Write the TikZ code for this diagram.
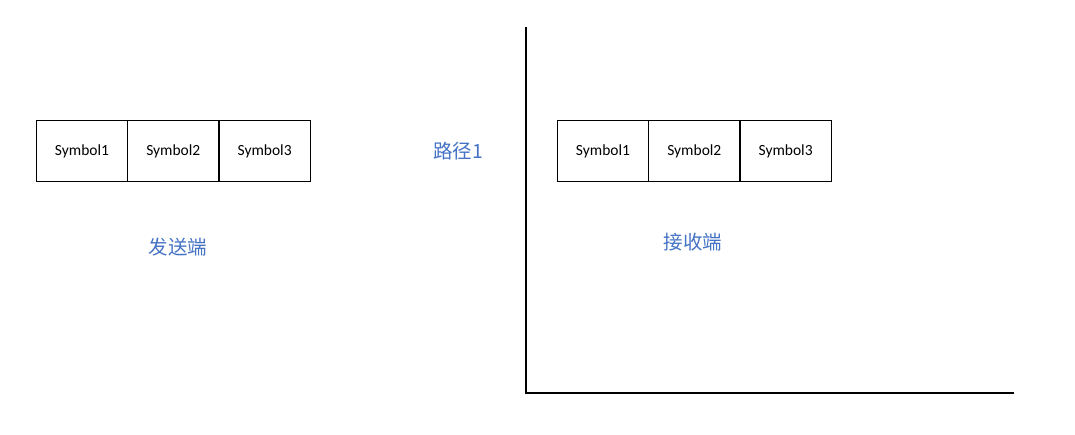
\documentclass[tikz,border=0pt]{standalone}
\usepackage{fontspec}
\setmainfont{Carlito}
\newfontfamily\cjk{Noto Sans CJK SC}
\usetikzlibrary{positioning}
\definecolor{labelblue}{HTML}{4472C4}

\begin{document}
\begin{tikzpicture}[x=1pt, y=-1pt, semithick, node distance=0pt]
\tikzstyle{symbox}=[draw=black, line width=1.1pt, minimum width=91.3pt, minimum height=61pt, inner sep=0pt, outer sep=0pt, font=\fontsize{15.5}{18}\selectfont]
\tikzstyle{cnlabel}=[text=labelblue, font=\cjk\fontsize{19.5}{23}\selectfont]
\useasboundingbox (0,0) rectangle (1075,435);
% sender
\node[symbox]   (S1) at (82,151)   {Symbol1};
\node[symbox]   (S2) [right=of S1] {Symbol2};
\node[symbox]   (S3) [right=of S2] {Symbol3};
\node[cnlabel]  (TX) at (178,247)  {发送端};
% path
\node[cnlabel]  (P1) at (458,151)  {路径1};
% receiver
\node[symbox]   (R1) at (603,151)  {Symbol1};
\node[symbox]   (R2) [right=of R1] {Symbol2};
\node[symbox]   (R3) [right=of R2] {Symbol3};
\node[cnlabel]  (RX) at (693,242)  {接收端};
% axes
\coordinate (O)    at (526,393);
\coordinate (Ytop) at (526,27);
\coordinate (Xend) at (1014,393);
\draw[line width=1.4pt] (Ytop) -- (O) -- (Xend);
\end{tikzpicture}
\end{document}
